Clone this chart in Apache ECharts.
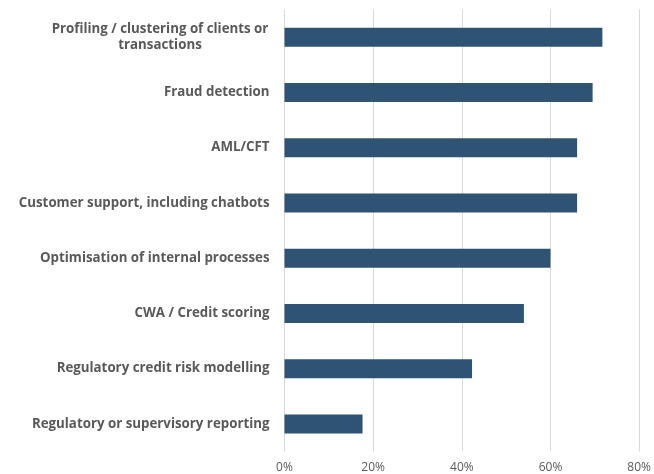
<!DOCTYPE html>
<html>
<head>
<meta charset="utf-8">
<script src="https://cdn.jsdelivr.net/npm/echarts@6/dist/echarts.min.js"></script>
<style>
  html, body { margin: 0; padding: 0; background: #ffffff; }
  #chart-container { width: 654px; height: 474px; }
</style>
</head>
<body>
<div id="chart-container"></div>
<script>
const categories = [
    'Profiling / clustering of clients or\ntransactions',
    'Fraud detection',
    'AML/CFT',
    'Customer support, including chatbots',
    'Optimisation of internal processes',
    'CWA / Credit scoring',
    'Regulatory credit risk modelling',
    'Regulatory or supervisory reporting'
];

const shares = [71.7, 69.5, 66.0, 66.0, 60.0, 54.0, 42.3, 17.6];

const xTicks = [0, 20, 40, 60, 80];

const textColor = '#595959';
const linesColor = '#d9d9d9';

const chartContainer = document.getElementById('chart-container');
if (chartContainer) {
    const myChart = echarts.init(chartContainer);

    const options = {
        backgroundColor: '#ffffff',
        animation: false,
        grid: {
            left: 284.5,
            right: 13.5,
            top: 9.5,
            bottom: 22.5,
            containLabel: false
        },
        xAxis: {
            type: 'value',
            min: xTicks[0],
            max: xTicks[xTicks.length - 1],
            interval: 20,
            axisLine: { show: false },
            axisTick: { show: false },
            axisLabel: {
                formatter: '{value}%',
                color: textColor,
                fontFamily: 'Open Sans',
                fontSize: 12,
                margin: 10
            },
            splitLine: {
                show: true,
                lineStyle: { color: linesColor, width: 1 }
            }
        },
        yAxis: {
            type: 'category',
            inverse: true,
            data: categories,
            axisLine: { show: false },
            axisTick: { show: false },
            axisLabel: {
                margin: 15,
                formatter: function (value) {
                    if (value.indexOf('\n') >= 0) {
                        return value.split('\n').map(function (line) {
                            return '{c|' + line + '}';
                        }).join('\n');
                    }
                    return value;
                },
                color: textColor,
                fontFamily: 'Open Sans',
                fontWeight: 'bold',
                fontSize: 13.3,
                lineHeight: 16,
                rich: {
                    c: {
                        width: 219,
                        align: 'center',
                        color: textColor,
                        fontFamily: 'Open Sans',
                        fontWeight: 'bold',
                        fontSize: 13.3,
                        lineHeight: 16
                    }
                }
            }
        },
        series: [{
            type: 'bar',
            data: shares,
            barWidth: 19,
            itemStyle: {
                color: '#2F5373'
            }
        }]
    };

    myChart.setOption(options);
} else {
    console.error("Chart container element not found!");
}
</script>
</body>
</html>
